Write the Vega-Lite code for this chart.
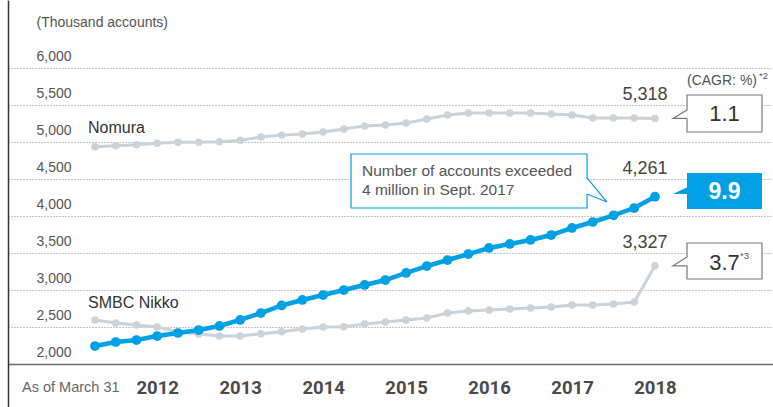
{
  "$schema": "https://vega.github.io/schema/vega-lite/v6.json",
  "width": 765,
  "height": 407,
  "autosize": {"type": "none"},
  "padding": {"left": 8, "right": 0, "top": 0, "bottom": 0},
  "background": "white",
  "config": {"view": {"stroke": null}, "font": "Liberation Sans"},
  "datasets": {
    "accounts": [
      {"series": "Nomura", "year": 2011.5, "accounts": 4935},
      {"series": "Nomura", "year": 2011.75, "accounts": 4948},
      {"series": "Nomura", "year": 2012.0, "accounts": 4962},
      {"series": "Nomura", "year": 2012.25, "accounts": 4984},
      {"series": "Nomura", "year": 2012.5, "accounts": 4998},
      {"series": "Nomura", "year": 2012.75, "accounts": 4998},
      {"series": "Nomura", "year": 2013.0, "accounts": 5003},
      {"series": "Nomura", "year": 2013.25, "accounts": 5025},
      {"series": "Nomura", "year": 2013.5, "accounts": 5068},
      {"series": "Nomura", "year": 2013.75, "accounts": 5093},
      {"series": "Nomura", "year": 2014.0, "accounts": 5108},
      {"series": "Nomura", "year": 2014.25, "accounts": 5135},
      {"series": "Nomura", "year": 2014.5, "accounts": 5176},
      {"series": "Nomura", "year": 2014.75, "accounts": 5216},
      {"series": "Nomura", "year": 2015.0, "accounts": 5230},
      {"series": "Nomura", "year": 2015.25, "accounts": 5257},
      {"series": "Nomura", "year": 2015.5, "accounts": 5311},
      {"series": "Nomura", "year": 2015.75, "accounts": 5365},
      {"series": "Nomura", "year": 2016.0, "accounts": 5392},
      {"series": "Nomura", "year": 2016.25, "accounts": 5392},
      {"series": "Nomura", "year": 2016.5, "accounts": 5392},
      {"series": "Nomura", "year": 2016.75, "accounts": 5392},
      {"series": "Nomura", "year": 2017.0, "accounts": 5378},
      {"series": "Nomura", "year": 2017.25, "accounts": 5365},
      {"series": "Nomura", "year": 2017.5, "accounts": 5324},
      {"series": "Nomura", "year": 2017.75, "accounts": 5324},
      {"series": "Nomura", "year": 2018.0, "accounts": 5324},
      {"series": "Nomura", "year": 2018.25, "accounts": 5318},
      {"series": "SMBC Nikko", "year": 2011.5, "accounts": 2595},
      {"series": "SMBC Nikko", "year": 2011.75, "accounts": 2554},
      {"series": "SMBC Nikko", "year": 2012.0, "accounts": 2527},
      {"series": "SMBC Nikko", "year": 2012.25, "accounts": 2500},
      {"series": "SMBC Nikko", "year": 2012.5, "accounts": 2435},
      {"series": "SMBC Nikko", "year": 2012.75, "accounts": 2405},
      {"series": "SMBC Nikko", "year": 2013.0, "accounts": 2378},
      {"series": "SMBC Nikko", "year": 2013.25, "accounts": 2378},
      {"series": "SMBC Nikko", "year": 2013.5, "accounts": 2408},
      {"series": "SMBC Nikko", "year": 2013.75, "accounts": 2435},
      {"series": "SMBC Nikko", "year": 2014.0, "accounts": 2473},
      {"series": "SMBC Nikko", "year": 2014.25, "accounts": 2500},
      {"series": "SMBC Nikko", "year": 2014.5, "accounts": 2505},
      {"series": "SMBC Nikko", "year": 2014.75, "accounts": 2541},
      {"series": "SMBC Nikko", "year": 2015.0, "accounts": 2568},
      {"series": "SMBC Nikko", "year": 2015.25, "accounts": 2595},
      {"series": "SMBC Nikko", "year": 2015.5, "accounts": 2622},
      {"series": "SMBC Nikko", "year": 2015.75, "accounts": 2689},
      {"series": "SMBC Nikko", "year": 2016.0, "accounts": 2716},
      {"series": "SMBC Nikko", "year": 2016.25, "accounts": 2730},
      {"series": "SMBC Nikko", "year": 2016.5, "accounts": 2743},
      {"series": "SMBC Nikko", "year": 2016.75, "accounts": 2757},
      {"series": "SMBC Nikko", "year": 2017.0, "accounts": 2770},
      {"series": "SMBC Nikko", "year": 2017.25, "accounts": 2797},
      {"series": "SMBC Nikko", "year": 2017.5, "accounts": 2797},
      {"series": "SMBC Nikko", "year": 2017.75, "accounts": 2811},
      {"series": "SMBC Nikko", "year": 2018.0, "accounts": 2838},
      {"series": "SMBC Nikko", "year": 2018.25, "accounts": 3327},
      {"series": "SBI Securities", "year": 2011.5, "accounts": 2243},
      {"series": "SBI Securities", "year": 2011.75, "accounts": 2297},
      {"series": "SBI Securities", "year": 2012.0, "accounts": 2324},
      {"series": "SBI Securities", "year": 2012.25, "accounts": 2378},
      {"series": "SBI Securities", "year": 2012.5, "accounts": 2419},
      {"series": "SBI Securities", "year": 2012.75, "accounts": 2459},
      {"series": "SBI Securities", "year": 2013.0, "accounts": 2514},
      {"series": "SBI Securities", "year": 2013.25, "accounts": 2595},
      {"series": "SBI Securities", "year": 2013.5, "accounts": 2689},
      {"series": "SBI Securities", "year": 2013.75, "accounts": 2791},
      {"series": "SBI Securities", "year": 2014.0, "accounts": 2865},
      {"series": "SBI Securities", "year": 2014.25, "accounts": 2932},
      {"series": "SBI Securities", "year": 2014.5, "accounts": 3000},
      {"series": "SBI Securities", "year": 2014.75, "accounts": 3068},
      {"series": "SBI Securities", "year": 2015.0, "accounts": 3135},
      {"series": "SBI Securities", "year": 2015.25, "accounts": 3230},
      {"series": "SBI Securities", "year": 2015.5, "accounts": 3324},
      {"series": "SBI Securities", "year": 2015.75, "accounts": 3405},
      {"series": "SBI Securities", "year": 2016.0, "accounts": 3486},
      {"series": "SBI Securities", "year": 2016.25, "accounts": 3568},
      {"series": "SBI Securities", "year": 2016.5, "accounts": 3622},
      {"series": "SBI Securities", "year": 2016.75, "accounts": 3676},
      {"series": "SBI Securities", "year": 2017.0, "accounts": 3743},
      {"series": "SBI Securities", "year": 2017.25, "accounts": 3838},
      {"series": "SBI Securities", "year": 2017.5, "accounts": 3919},
      {"series": "SBI Securities", "year": 2017.75, "accounts": 4010},
      {"series": "SBI Securities", "year": 2018.0, "accounts": 4108},
      {"series": "SBI Securities", "year": 2018.25, "accounts": 4261}
    ]
  },
  "encoding": {
    "x": {
      "field": "year",
      "type": "quantitative",
      "scale": {"domain": [2010.4513, 2019.6726], "nice": false, "zero": false},
      "axis": {
        "orient": "bottom",
        "offset": -43,
        "values": [2012.25, 2013.25, 2014.25, 2015.25, 2016.25, 2017.25, 2018.25],
        "labelExpr": "'' + floor(datum.value)",
        "title": null,
        "grid": false,
        "ticks": false,
        "tickSize": 0,
        "domainColor": "#6b6b6b",
        "domainWidth": 1.5,
        "labelFont": "Roboto",
        "labelFontWeight": "bold",
        "labelFontSize": 18.5,
        "labelColor": "#4a4a4a",
        "labelBaseline": "alphabetic",
        "labelPadding": 29,
        "labelOverlap": false,
        "labelFlush": false
      }
    },
    "y": {
      "field": "accounts",
      "type": "quantitative",
      "scale": {"domain": [1419, 6919], "nice": false, "zero": false},
      "axis": {
        "orient": "left",
        "values": [2000, 2500, 3000, 3500, 4000, 4500, 5000, 5500, 6000],
        "format": ",.0f",
        "grid": true,
        "gridDash": [1, 2],
        "gridColor": "#8c8c8c",
        "gridWidth": 1,
        "ticks": false,
        "tickSize": 0,
        "domainColor": "#333333",
        "domainWidth": 1.5,
        "labelAlign": "left",
        "labelPadding": -28,
        "labelBaseline": "alphabetic",
        "labelOffset": -8,
        "labelFontSize": 14,
        "labelColor": "#555555",
        "title": "(Thousand accounts)",
        "titleAngle": 0,
        "titleAlign": "left",
        "titleBaseline": "alphabetic",
        "titleX": 28,
        "titleY": 26,
        "titleFontSize": 14,
        "titleFontWeight": "normal",
        "titleColor": "#555555"
      }
    }
  },
  "layer": [
    {
      "data": {"values": [{"year": 2014.586, "year2": 2017.431, "accounts": 4838, "accounts2": 4108}]},
      "mark": {"type": "rect", "fill": "white", "stroke": "#009fe3", "strokeWidth": 1.2},
      "encoding": {"x2": {"field": "year2"}, "y2": {"field": "accounts2"}}
    },
    {
      "data": {"values": [
        {"year": 2017.42, "accounts": 4514, "accounts2": 4297},
        {"year": 2017.672, "accounts": 4189, "accounts2": 4189}
      ]},
      "mark": {"type": "area", "fill": "white", "opacity": 1},
      "encoding": {"y2": {"field": "accounts2"}}
    },
    {
      "data": {"values": [
        {"k": 1, "year": 2017.431, "accounts": 4514},
        {"k": 2, "year": 2017.672, "accounts": 4189},
        {"k": 3, "year": 2017.431, "accounts": 4297}
      ]},
      "mark": {"type": "line", "color": "#009fe3", "strokeWidth": 1.2},
      "encoding": {"order": {"field": "k"}}
    },
    {
      "data": {"values": [
        {"year": 2014.718, "accounts": 4541, "label": "Number of accounts exceeded"},
        {"year": 2014.718, "accounts": 4284, "label": "4 million in Sept. 2017"}
      ]},
      "mark": {"type": "text", "align": "left", "baseline": "alphabetic", "fontSize": 15.5, "color": "#555555"},
      "encoding": {"text": {"field": "label"}}
    },
    {
      "data": {"name": "accounts"},
      "transform": [{"filter": "datum.series !== 'SBI Securities'"}],
      "mark": {"type": "line", "color": "#c9d3db", "strokeWidth": 3, "point": {"filled": true, "size": 56, "color": "#c9d3db"}},
      "encoding": {"detail": {"field": "series"}}
    },
    {
      "data": {"name": "accounts"},
      "transform": [{"filter": "datum.series === 'SBI Securities'"}],
      "mark": {"type": "line", "color": "#00a0e4", "strokeWidth": 4.5, "point": {"filled": true, "size": 95, "color": "#00a0e4"}},
      "encoding": {"detail": {"field": "series"}}
    },
    {
      "data": {"values": [
        {"year": 2018.13, "accounts": 5568, "label": "5,318"},
        {"year": 2018.13, "accounts": 4568, "label": "4,261"},
        {"year": 2018.13, "accounts": 3568, "label": "3,327"}
      ]},
      "mark": {"type": "text", "align": "center", "baseline": "alphabetic", "fontSize": 18, "color": "#444444"},
      "encoding": {"text": {"field": "label"}}
    },
    {
      "data": {"values": [
        {"year": 2011.416, "accounts": 5122, "label": "Nomura"},
        {"year": 2011.416, "accounts": 2757, "label": "SMBC Nikko"}
      ]},
      "mark": {"type": "text", "align": "left", "baseline": "alphabetic", "fontSize": 16, "color": "#333333"},
      "encoding": {"text": {"field": "label"}}
    },
    {
      "data": {"values": [{"year": 2010.62, "accounts": 1622, "label": "As of March 31"}]},
      "mark": {"type": "text", "align": "left", "baseline": "alphabetic", "fontSize": 14.5, "color": "#666666"},
      "encoding": {"text": {"field": "label"}}
    },
    {
      "data": {"values": [
        {"year": 2018.636, "accounts": 5770, "label": "(CAGR: %)"}
      ]},
      "mark": {"type": "text", "align": "left", "baseline": "alphabetic", "fontSize": 14, "color": "#555555"},
      "encoding": {"text": {"field": "label"}}
    },
    {
      "data": {"values": [
        {"year": 2018.636, "year2": 2019.54, "accounts": 5635, "accounts2": 5135},
        {"year": 2018.636, "year2": 2019.54, "accounts": 3635, "accounts2": 3149}
      ]},
      "mark": {"type": "rect", "fill": "white", "stroke": "#7a7a7a", "strokeWidth": 1.2},
      "encoding": {"x2": {"field": "year2"}, "y2": {"field": "accounts2"}}
    },
    {
      "data": {"values": [
        {"year": 2018.636, "year2": 2019.54, "accounts": 4581, "accounts2": 4095}
      ]},
      "mark": {"type": "rect", "fill": "#00a0e4"},
      "encoding": {"x2": {"field": "year2"}, "y2": {"field": "accounts2"}}
    },
    {
      "data": {"values": [
        {"id": "a", "year": 2018.467, "accounts": 5318, "accounts2": 5318},
        {"id": "a", "year": 2018.646, "accounts": 5432, "accounts2": 5318},
        {"id": "c", "year": 2018.467, "accounts": 3327, "accounts2": 3327},
        {"id": "c", "year": 2018.646, "accounts": 3446, "accounts2": 3327}
      ]},
      "mark": {"type": "area", "fill": "white", "opacity": 1},
      "encoding": {"y2": {"field": "accounts2"}, "detail": {"field": "id"}}
    },
    {
      "data": {"values": [
        {"year": 2018.467, "accounts": 4297, "accounts2": 4297},
        {"year": 2018.646, "accounts": 4392, "accounts2": 4297}
      ]},
      "mark": {"type": "area", "fill": "#00a0e4", "opacity": 1},
      "encoding": {"y2": {"field": "accounts2"}}
    },
    {
      "data": {"values": [
        {"id": "a", "k": 1, "year": 2018.636, "accounts": 5432},
        {"id": "a", "k": 2, "year": 2018.467, "accounts": 5318},
        {"id": "a", "k": 3, "year": 2018.636, "accounts": 5318},
        {"id": "c", "k": 1, "year": 2018.636, "accounts": 3446},
        {"id": "c", "k": 2, "year": 2018.467, "accounts": 3327},
        {"id": "c", "k": 3, "year": 2018.636, "accounts": 3327}
      ]},
      "mark": {"type": "line", "color": "#7a7a7a", "strokeWidth": 1.2},
      "encoding": {"detail": {"field": "id"}, "order": {"field": "k"}}
    },
    {
      "data": {"values": [
        {"year": 2019.504, "accounts": 5851, "label": "*2"},
        {"year": 2019.275, "accounts": 3419, "label": "*3"}
      ]},
      "mark": {"type": "text", "align": "left", "baseline": "alphabetic", "fontSize": 9.5, "color": "#555555"},
      "encoding": {"text": {"field": "label"}}
    },
    {
      "data": {"values": [
        {"year": 2019.088, "accounts": 5284, "label": "1.1"},
        {"year": 2019.088, "accounts": 3270, "label": "3.7"}
      ]},
      "mark": {"type": "text", "align": "center", "baseline": "alphabetic", "fontSize": 22, "color": "#333333"},
      "encoding": {"text": {"field": "label"}}
    },
    {
      "data": {"values": [{"year": 2019.088, "accounts": 4230, "label": "9.9"}]},
      "mark": {"type": "text", "align": "center", "baseline": "alphabetic", "fontSize": 23, "fontWeight": "bold", "color": "white"},
      "encoding": {"text": {"field": "label"}}
    }
  ]
}
